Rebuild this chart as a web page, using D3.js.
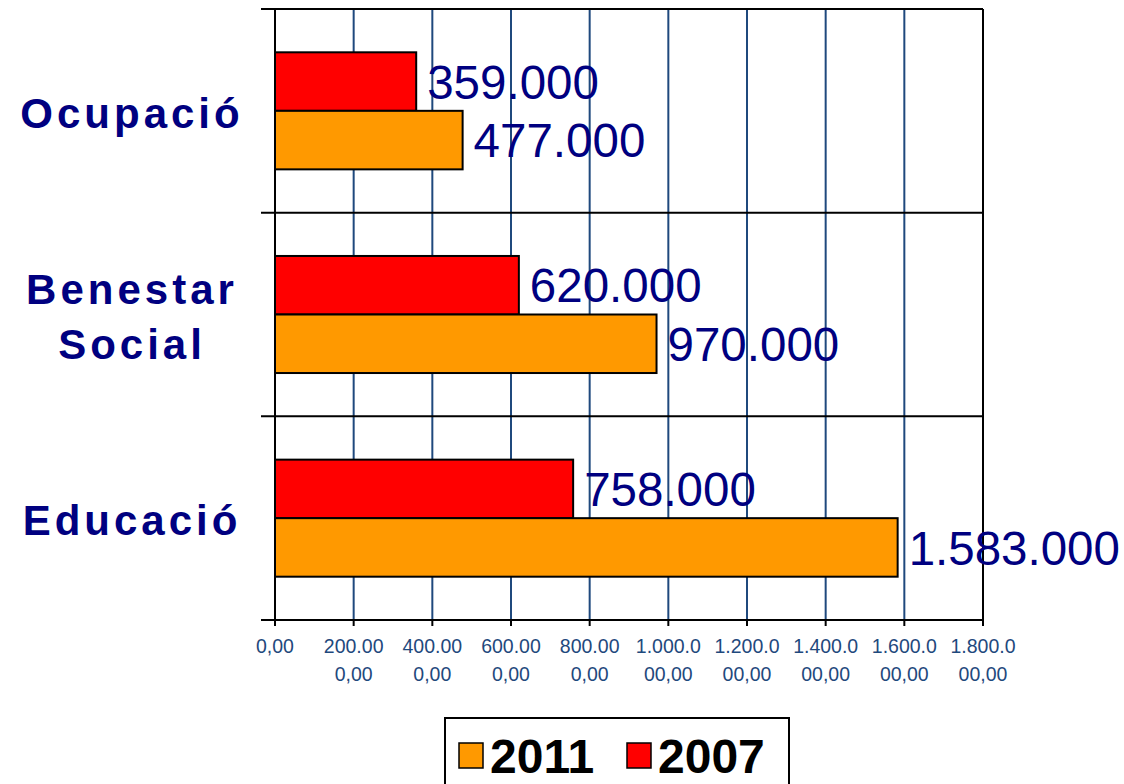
<!DOCTYPE html>
<html>
<head>
<meta charset="utf-8">
<script src="https://cdn.jsdelivr.net/npm/d3@7"></script>
<style>
  html, body { margin: 0; padding: 0; background: #fff; }
  svg { display: block; }
</style>
</head>
<body>
<svg id="chart" width="1124" height="784"></svg>
<script>
// data
const categories = ["Ocupació", "Benestar Social", "Educació"];
const categoryLines = [["Ocupació"], ["Benestar", "Social"], ["Educació"]];
const series = ["2007", "2011"];
const values2007 = [359000, 620000, 758000];
const values2011 = [477000, 970000, 1583000];
const valueLabels2007 = ["359.000", "620.000", "758.000"];
const valueLabels2011 = ["477.000", "970.000", "1.583.000"];
const tickValues = [0, 200000, 400000, 600000, 800000, 1000000, 1200000, 1400000, 1600000, 1800000];
const tickLabels = [["0,00"], ["200.00", "0,00"], ["400.00", "0,00"], ["600.00", "0,00"], ["800.00", "0,00"],
  ["1.000.0", "00,00"], ["1.200.0", "00,00"], ["1.400.0", "00,00"], ["1.600.0", "00,00"], ["1.800.0", "00,00"]];
const legendOrder = ["2011", "2007"];

const colors = { "2007": "#ff0000", "2011": "#ff9900" };
const navy = "#000080";
const gridBlue = "#1f497d";
const font = "Arial, 'Liberation Sans', sans-serif";

const svg = d3.select("#chart");

const x = d3.scaleLinear().domain([0, 1800000]).range([275, 983]);
const y = d3.scaleBand().domain(categories).range([9, 620]);
const inner = d3.scaleBand().domain(series).range([0, y.bandwidth()]).paddingOuter(0.74);

const rows = categories.map((c, i) => ({
  cat: c,
  lines: categoryLines[i],
  bars: [
    { s: "2007", v: values2007[i], label: valueLabels2007[i] },
    { s: "2011", v: values2011[i], label: valueLabels2011[i] }
  ]
}));

// vertical gridlines
svg.append("g").selectAll("line")
  .data(tickValues.slice(1, -1))
  .join("line")
  .attr("x1", d => x(d)).attr("x2", d => x(d))
  .attr("y1", 9).attr("y2", 620)
  .attr("stroke", gridBlue).attr("stroke-width", 2);

// category boundary lines (extend left as ticks)
const bounds = categories.map(c => y(c)).concat([y.range()[1]]);
svg.append("g").selectAll("line")
  .data(bounds)
  .join("line")
  .attr("x1", 261).attr("x2", 983)
  .attr("y1", d => d).attr("y2", d => d)
  .attr("stroke", "#000").attr("stroke-width", 2);

// left axis and right border
svg.append("line").attr("x1", 275).attr("x2", 275).attr("y1", 9).attr("y2", 626)
  .attr("stroke", "#000").attr("stroke-width", 2);
svg.append("line").attr("x1", x(1800000)).attr("x2", x(1800000)).attr("y1", 9).attr("y2", 620)
  .attr("stroke", "#000").attr("stroke-width", 2);

// bottom ticks
svg.append("g").selectAll("line")
  .data(tickValues)
  .join("line")
  .attr("x1", d => x(d)).attr("x2", d => x(d))
  .attr("y1", 620).attr("y2", 626)
  .attr("stroke", "#000").attr("stroke-width", 2);

// tick labels
const tl = svg.append("g")
  .attr("font-family", font)
  .attr("font-size", 19.5)
  .attr("fill", gridBlue)
  .attr("text-anchor", "middle")
  .selectAll("text")
  .data(tickValues)
  .join("text")
  .attr("x", d => x(d))
  .attr("y", 653);
tl.selectAll("tspan")
  .data((d, i) => tickLabels[i])
  .join("tspan")
  .attr("x", function() { return this.parentNode.getAttribute("x"); })
  .attr("dy", (d, i) => i ? 28 : 0)
  .text(d => d);

// bars
const g = svg.append("g").selectAll("g")
  .data(rows)
  .join("g")
  .attr("transform", d => `translate(0,${y(d.cat)})`);

g.selectAll("rect")
  .data(d => d.bars)
  .join("rect")
  .attr("x", x(0))
  .attr("y", d => inner(d.s))
  .attr("width", d => x(d.v) - x(0))
  .attr("height", inner.bandwidth())
  .attr("fill", d => colors[d.s])
  .attr("stroke", "#000").attr("stroke-width", 2);

g.selectAll("text.val")
  .data(d => d.bars)
  .join("text")
  .attr("class", "val")
  .attr("x", d => x(d.v) + 11)
  .attr("y", d => inner(d.s) + inner.bandwidth() / 2)
  .attr("dy", "0.36em")
  .attr("font-family", font)
  .attr("font-size", 47.5)
  .attr("fill", navy)
  .text(d => d.label);

// category labels
const catSize = 42;
const cl = svg.append("g")
  .attr("font-family", font)
  .attr("font-weight", "bold")
  .attr("font-size", catSize)
  .attr("fill", navy)
  .attr("text-anchor", "middle")
  .style("letter-spacing", "4px")
  .selectAll("text")
  .data(rows)
  .join("text")
  .attr("x", 132)
  .attr("y", d => y(d.cat) + y.bandwidth() / 2 + 2 - (d.lines.length - 1) * 27.5);
cl.selectAll("tspan")
  .data(d => d.lines)
  .join("tspan")
  .attr("x", 132)
  .attr("dy", (d, i) => i ? 55 : catSize * 0.36)
  .text(d => d);

// legend
const lg = svg.append("g");
lg.append("rect").attr("x", 445).attr("y", 718).attr("width", 344).attr("height", 80)
  .attr("fill", "#fff").attr("stroke", "#000").attr("stroke-width", 2);
const li = lg.selectAll("g")
  .data(legendOrder)
  .join("g")
  .attr("transform", (d, i) => `translate(${459 + i * 168},743)`);
li.append("rect").attr("width", 24).attr("height", 25)
  .attr("fill", d => colors[d]).attr("stroke", "#000").attr("stroke-width", 1.5);
li.append("text")
  .attr("x", 31).attr("y", 13).attr("dy", "0.36em")
  .attr("font-family", font)
  .attr("font-weight", "bold").attr("font-size", 48)
  .attr("fill", "#000")
  .text(d => d);
</script>
</body>
</html>
